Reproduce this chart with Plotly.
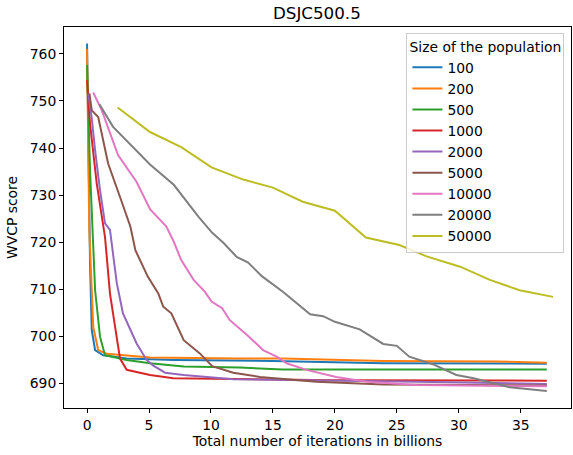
import plotly.graph_objects as go

labels = ["100", "200", "500", "1000", "2000", "5000", "10000", "20000", "50000"]
colors = ["#1f77b4", "#ff7f0e", "#2ca02c", "#d62728", "#9467bd", "#8c564b", "#e377c2", "#7f7f7f", "#bcbd22"]

x100 = [0.0, 0.1, 0.24, 0.38, 0.65, 1.3, 3.2, 7.0, 15.0, 23.9, 30.0, 37.1]
y100 = [762.2, 740.0, 715.5, 701.3, 697.1, 696.0, 695.3, 695.0, 694.8, 694.3, 694.2, 694.2]

x200 = [0.0, 0.1, 0.18, 0.5, 0.9, 1.6, 5.08, 12.3, 15.8, 23.9, 33.0, 37.1]
y200 = [761.0, 740.0, 722.6, 702.0, 697.1, 696.3, 695.5, 695.3, 695.3, 694.8, 694.7, 694.4]

x500 = [0.0, 0.1, 0.24, 0.65, 1.05, 1.45, 3.2, 5.08, 7.8, 12.3, 15.8, 37.1]
y500 = [757.6, 748.0, 735.3, 709.8, 699.9, 696.0, 695.0, 694.3, 693.6, 693.4, 693.0, 693.0]

x1000 = [0.0, 0.24, 0.78, 1.45, 1.85, 2.26, 2.66, 3.2, 5.08, 6.96, 12.3, 20.0, 37.1]
y1000 = [754.4, 745.2, 732.5, 721.1, 709.1, 702.0, 695.3, 692.9, 691.8, 691.1, 690.9, 690.7, 690.6]

x2000 = [0.1, 0.38, 0.65, 1.05, 1.45, 1.85, 2.4, 2.9, 4.0, 4.8, 5.35, 6.3, 7.8, 11.8, 26.6, 37.1]
y2000 = [751.6, 746.3, 739.5, 731.0, 724.0, 722.6, 711.3, 704.9, 698.5, 695.0, 693.8, 692.3, 691.8, 690.9, 690.4, 689.9]

x5000 = [0.19, 0.38, 0.9, 1.7, 2.66, 3.5, 3.9, 4.9, 5.75, 6.15, 6.8, 7.8, 9.1, 10.1, 11.8, 13.95, 18.5, 23.9, 37.1]
y5000 = [751.6, 748.0, 746.6, 736.7, 729.6, 723.3, 718.3, 712.7, 709.1, 706.3, 704.9, 699.2, 696.4, 693.7, 692.3, 691.4, 690.4, 689.8, 689.6]

x10000 = [0.5, 1.19, 2.5, 4.0, 5.08, 6.4, 7.0, 7.6, 8.6, 9.5, 10.05, 10.9, 11.5, 13.0, 14.2, 15.3, 16.1, 17.7, 20.1, 22.6, 26.6, 37.1]
y10000 = [751.8, 748.0, 738.5, 732.8, 727.0, 723.3, 720.1, 716.2, 712.0, 709.5, 707.4, 706.0, 703.5, 700.1, 697.1, 695.7, 694.3, 692.9, 691.4, 690.4, 689.7, 689.4]

x20000 = [1.0, 2.1, 5.08, 7.0, 9.0, 10.1, 11.0, 12.07, 13.0, 14.1, 15.8, 18.0, 19.05, 20.0, 22.0, 23.9, 25.0, 26.0, 27.9, 29.8, 31.2, 34.1, 37.1]
y20000 = [749.3, 744.5, 736.5, 732.2, 725.4, 722.0, 719.9, 716.9, 715.7, 712.8, 709.5, 704.7, 704.3, 703.1, 701.5, 698.4, 698.0, 695.7, 694.1, 691.8, 691.1, 689.2, 688.4]

x50000 = [2.47, 5.08, 7.6, 10.05, 12.6, 15.0, 17.4, 20.0, 22.5, 25.2, 27.4, 30.1, 32.5, 34.9, 37.6]
y50000 = [748.6, 743.4, 740.2, 735.9, 733.3, 731.6, 728.6, 726.7, 721.0, 719.4, 717.0, 714.8, 712.0, 709.8, 708.4]

xs = [x100, x200, x500, x1000, x2000, x5000, x10000, x20000, x50000]
ys = [y100, y200, y500, y1000, y2000, y5000, y10000, y20000, y50000]

fig = go.Figure()
for lab, col, xv, yv in zip(labels, colors, xs, ys):
    fig.add_trace(go.Scatter(x=xv, y=yv, mode="lines", name=lab,
                             line=dict(color=col, width=2)))

font = "DejaVu Sans, sans-serif"
fs = 13.9
fig.update_layout(
    width=573, height=455,
    margin=dict(l=64, r=2, t=27, b=47),
    paper_bgcolor="white", plot_bgcolor="white",
    font=dict(family=font, size=fs, color="black"),
    title=dict(text="DSJC500.5", x=0.553, xanchor="center", y=0.971, yanchor="middle",
               font=dict(size=16.7)),
    showlegend=True,
    legend=dict(
        title=dict(text="Size of the population", font=dict(size=fs), side="top center"),
        x=0.987, xanchor="right", y=0.985, yanchor="top",
        bgcolor="rgba(255,255,255,0.8)", bordercolor="#cccccc", borderwidth=1,
        font=dict(size=fs), tracegroupgap=0, itemwidth=30,
    ),
)
fig.update_xaxes(
    range=[-1.86, 39.05], tickvals=[0, 5, 10, 15, 20, 25, 30, 35],
    showgrid=False, zeroline=False, showline=True, mirror=True,
    linecolor="black", linewidth=1, ticks="outside", ticklen=4, tickcolor="black",
    title=dict(text="Total number of iterations in billions", font=dict(size=fs), standoff=4),
    tickfont=dict(size=fs),
)
fig.update_yaxes(
    range=[684.8, 765.7], tickvals=[690, 700, 710, 720, 730, 740, 750, 760],
    showgrid=False, zeroline=False, showline=True, mirror=True,
    linecolor="black", linewidth=1, ticks="outside", ticklen=4, tickcolor="black",
    title=dict(text="WVCP score", font=dict(size=fs), standoff=8),
    tickfont=dict(size=fs),
)
fig.write_html("out.html")
